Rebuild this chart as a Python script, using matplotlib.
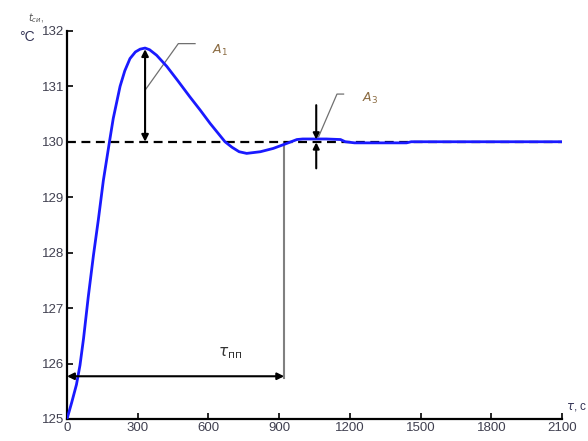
import matplotlib
matplotlib.use("Agg")
import matplotlib.pyplot as plt

# переходный процесс температуры
time = [0, 20, 40, 55, 70, 90, 112, 133, 154, 180, 196, 225, 245, 267, 290, 310,
        331, 350, 380, 423, 470, 521, 565, 607, 670, 700, 730, 762, 820, 875, 932,
        975, 1000, 1100, 1160, 1180, 1220, 1240, 1300, 1440, 1460, 1500, 2100]
temp = [125, 125.3, 125.62, 125.97, 126.45, 127.2, 127.95, 128.6, 129.3, 130.0, 130.42,
        131.0, 131.28, 131.5, 131.62, 131.67, 131.69, 131.66, 131.56, 131.36, 131.1,
        130.81, 130.57, 130.33, 130.0, 129.9, 129.82, 129.79, 129.82, 129.88, 129.97,
        130.04, 130.05, 130.05, 130.04, 130.0, 129.98, 129.98, 129.98, 129.98, 130.0,
        130.0, 130.0]

setpoint = 130
t_pp = 921
x_ticks = [0, 300, 600, 900, 1200, 1500, 1800, 2100]
y_ticks = [125, 126, 127, 128, 129, 130, 131, 132]

plt.rcParams['font.family'] = ['Liberation Sans', 'DejaVu Sans']
plt.rcParams['mathtext.fontset'] = 'dejavusans'

fig = plt.figure(figsize=(5.88, 4.41), dpi=100)
ax = fig.add_axes([0.114, 0.050, 0.842, 0.880])

ax.plot(time, temp, color='#1a1aff', lw=2.0, zorder=3)
ax.plot([0, 2100], [setpoint, setpoint], color='black', lw=1.6, ls=(0, (4, 2.5)), zorder=2)

# tau_pp
ax.plot([t_pp, t_pp], [125.73, setpoint], color='#808080', lw=1.5, zorder=1)
ax.annotate('', xy=(t_pp, 125.77), xytext=(0, 125.77),
            arrowprops=dict(arrowstyle='<|-|>', color='black', lw=1.5,
                            shrinkA=0, shrinkB=0, mutation_scale=10))
ax.text(690, 126.05, r'$\tau_{\mathrm{пп}}$', fontsize=11, color='#333333',
        ha='center', va='bottom')

# A1
ax.annotate('', xy=(331, 131.67), xytext=(331, setpoint),
            arrowprops=dict(arrowstyle='<|-|>', color='black', lw=1.5,
                            shrinkA=0, shrinkB=0, mutation_scale=10))
ax.plot([331, 472, 543], [130.93, 131.77, 131.77], color='#707070', lw=0.9)
ax.text(649, 131.64, r'$A_1$', fontsize=9, color='#8a6a40', ha='center', va='center')

# A3
ax.annotate('', xy=(1057, 130.04), xytext=(1057, 130.66),
            arrowprops=dict(arrowstyle='-|>', color='black', lw=1.5,
                            shrinkA=0, shrinkB=0, mutation_scale=9))
ax.annotate('', xy=(1057, 129.99), xytext=(1057, 129.52),
            arrowprops=dict(arrowstyle='-|>', color='black', lw=1.5,
                            shrinkA=0, shrinkB=0, mutation_scale=9))
ax.plot([1067, 1145, 1173], [130.09, 130.86, 130.86], color='#707070', lw=0.9)
ax.text(1286, 130.78, r'$A_3$', fontsize=9, color='#8a6a40', ha='center', va='center')

ax.set_xlim(0, 2100)
ax.set_ylim(125, 132)
ax.set_xticks(x_ticks)
ax.set_yticks(y_ticks)
for s in ['top', 'right']:
    ax.spines[s].set_visible(False)
for s in ['left', 'bottom']:
    ax.spines[s].set_linewidth(1.6)
ax.tick_params(direction='in', length=4, width=1.2, labelsize=9.5,
               labelcolor='#404050', pad=2)

fig.text(0.963, 0.077, r'$\tau$, c', fontsize=8.5, color='#333355', ha='left', va='center')
fig.text(0.062, 0.958, r'$t_{си}$,', fontsize=7, color='#555555', ha='center', va='center')
fig.text(0.045, 0.916, '°C', fontsize=10, color='#333355', ha='center', va='center')

fig.savefig('out.png', dpi=100)
